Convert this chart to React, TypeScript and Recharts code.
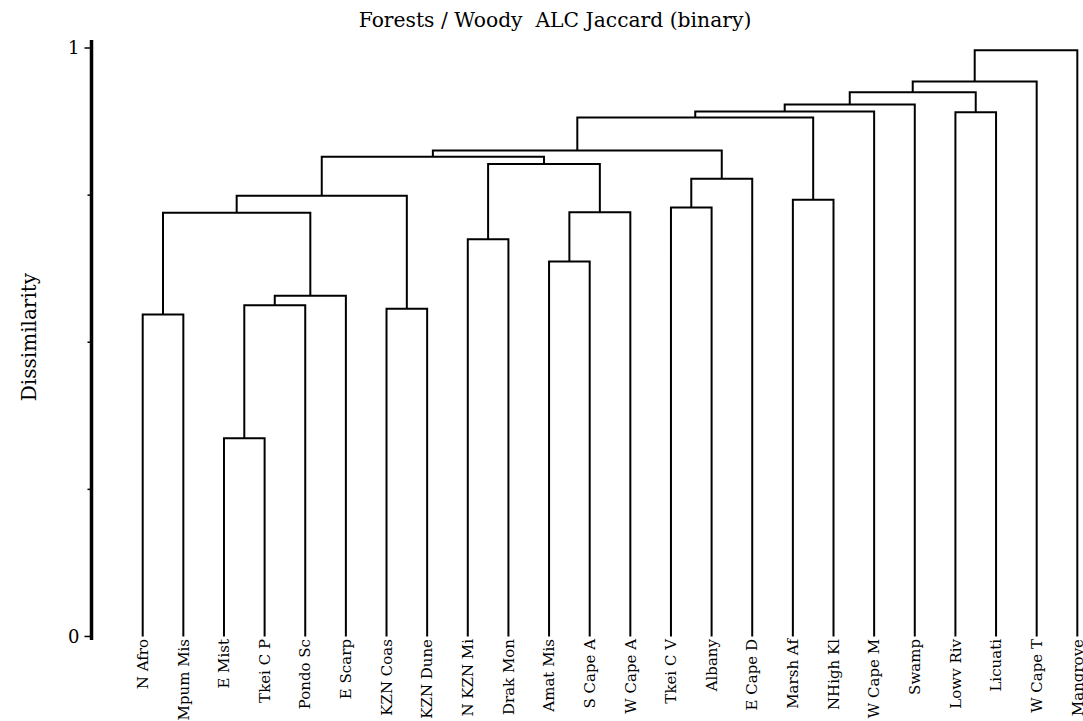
import React from 'react';
import { LineChart, Line, XAxis, YAxis } from 'recharts';

// leaves in plotting order, left to right
const leafNames = [
  'N Afro', 'Mpum Mis', 'E Mist', 'Tkei C P', 'Pondo Sc', 'E Scarp',
  'KZN Coas', 'KZN Dune', 'N KZN Mi', 'Drak Mon', 'Amat Mis', 'S Cape A',
  'W Cape A', 'Tkei C V', 'Albany', 'E Cape D', 'Marsh Af', 'NHigh Kl',
  'W Cape M', 'Swamp', 'Lowv Riv', 'Licuati', 'W Cape T', 'Mangrove',
];

// linkage: node ids 0..23 are leaves, merge k creates node 24 + k
const mergeLeft = [2, 0, 6, 24, 27, 10, 8, 25, 29, 13, 16, 31, 33, 30, 35, 38, 39, 40, 20, 41, 43, 44, 45];
const mergeRight = [3, 1, 7, 4, 5, 11, 9, 28, 12, 14, 17, 26, 15, 32, 37, 36, 34, 18, 21, 19, 42, 22, 23];
const mergeHeight = [
  0.337, 0.547, 0.557, 0.563, 0.579, 0.637, 0.675, 0.72, 0.721, 0.729, 0.742,
  0.749, 0.778, 0.803, 0.815, 0.826, 0.882, 0.892, 0.891, 0.904, 0.925, 0.943, 0.996,
];

const yTicks = [0, 0.25, 0.5, 0.75, 1];
const yTickLabels = ['0', '', '', '', '1'];

const W = 1083;
const H = 721;
const AXIS_X = 91.5;
const PLOT_TOP = 40;
const PLOT_BOTTOM = 640;
const PLOT_RIGHT = 1080;
const Y_AXIS_W = 60;
const FONT = '"DejaVu Serif", serif';

const buildLinks = () => {
  const nodeX: number[] = leafNames.map((_, i) => i);
  const nodeH: number[] = leafNames.map(() => 0);
  return mergeHeight.map((h, k) => {
    const l = mergeLeft[k];
    const r = mergeRight[k];
    nodeX.push((nodeX[l] + nodeX[r]) / 2);
    nodeH.push(h);
    return [
      { x: nodeX[l], y: nodeH[l] },
      { x: nodeX[l], y: h },
      { x: nodeX[r], y: h },
      { x: nodeX[r], y: nodeH[r] },
    ];
  });
};

const links = buildLinks();
const leafTicks = leafNames.map((_, i) => i);

const LeafTick = (props: any) => {
  const { x, y, payload } = props;
  return (
    <text
      transform={`translate(${x},${y - 1}) rotate(-90)`}
      textAnchor="end"
      dy="0.35em"
      fontFamily={FONT}
      fontSize={15}
      fill="#000"
    >
      {leafNames[payload.value]}
    </text>
  );
};

const ValueTick = (props: any) => {
  const { y, index } = props;
  const label = yTickLabels[index];
  const major = label !== '';
  return (
    <g>
      <line x1={AXIS_X - (major ? 7 : 4)} x2={AXIS_X} y1={y} y2={y} stroke="#000" strokeWidth={1.5} />
      {major && (
        <text x={AXIS_X - 12} y={y} dy="0.35em" textAnchor="end" fontFamily={FONT} fontSize={18} fill="#000">
          {label}
        </text>
      )}
    </g>
  );
};

export default function App() {
  return (
    <div style={{ position: 'absolute', left: 0, top: 0, width: W, height: H, background: '#fff' }}>
      <LineChart
        width={W}
        height={H}
        margin={{ top: PLOT_TOP, right: W - PLOT_RIGHT, bottom: 0, left: AXIS_X - Y_AXIS_W }}
      >
        <XAxis
          type="number"
          dataKey="x"
          domain={[-1.26, 23.066]}
          ticks={leafTicks}
          interval={0}
          height={H - PLOT_BOTTOM}
          axisLine={false}
          tickLine={false}
          tickSize={0}
          tickMargin={0}
          allowDataOverflow
          tick={LeafTick}
        />
        <YAxis
          type="number"
          domain={[-0.006, 1.0136]}
          ticks={yTicks}
          width={Y_AXIS_W}
          axisLine={{ stroke: '#000', strokeWidth: 3.5 }}
          tickLine={false}
          tickSize={0}
          allowDataOverflow
          tick={ValueTick}
        />
        {links.map((pts, k) => (
          <Line
            key={k}
            data={pts}
            dataKey="y"
            type="linear"
            stroke="#000"
            strokeWidth={2}
            dot={false}
            activeDot={false}
            isAnimationActive={false}
          />
        ))}
      </LineChart>
      <svg
        width={W}
        height={H}
        style={{ position: 'absolute', left: 0, top: 0, pointerEvents: 'none' }}
      >
        <text
          x={555}
          y={26.5}
          textAnchor="middle"
          fontFamily={FONT}
          fontSize={20.3}
          fill="#000"
          style={{ whiteSpace: 'pre' }}
        >
          {'Forests / Woody  ALC Jaccard (binary)'}
        </text>
        <text
          transform="translate(36,337) rotate(-90)"
          textAnchor="middle"
          fontFamily={FONT}
          fontSize={20}
          fill="#000"
        >
          Dissimilarity
        </text>
      </svg>
    </div>
  );
}
